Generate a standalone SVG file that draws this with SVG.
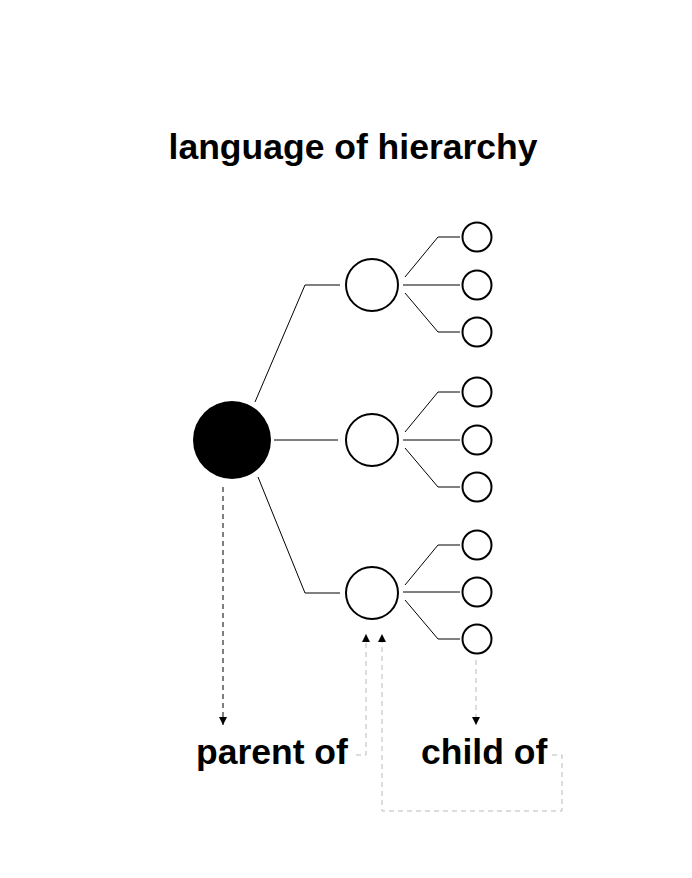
<svg xmlns="http://www.w3.org/2000/svg" width="692" height="878" viewBox="0 0 692 878">
<defs>
<style>
.lbl{font-family:"Liberation Sans",Arial,sans-serif;font-weight:bold;font-size:35.5px;fill:#000}
.c{fill:#fff;stroke:#000;stroke-width:2}
.ln{fill:none;stroke:#000;stroke-width:1}
.dk{fill:none;stroke:#000;stroke-width:1;stroke-dasharray:5,4}
.gy{fill:none;stroke:#bbb;stroke-width:1;stroke-dasharray:5,4}
</style>
<marker id="ah" viewBox="0 0 8 8" refX="8" refY="4" markerWidth="8" markerHeight="8" markerUnits="userSpaceOnUse" orient="auto">
<path d="M0,0 L8,4 L0,8 Z" fill="#000"/>
</marker>
</defs>
<rect width="692" height="878" fill="#fff"/>
<text class="lbl" x="353" y="159" text-anchor="middle">language of hierarchy</text>
<g id="connectors">
<polyline class="ln" points="255,402 305,285 340,285"/>
<line class="ln" x1="274" y1="440" x2="338" y2="440"/>
<polyline class="ln" points="258,477 305,593 340,593"/>
<polyline class="ln" points="405,277 438,237 460,237"/>
<line class="ln" x1="403" y1="285" x2="460" y2="285"/>
<polyline class="ln" points="405,293 438,332 460,332"/>
<polyline class="ln" points="405,432 438,392 460,392"/>
<line class="ln" x1="403" y1="440" x2="460" y2="440"/>
<polyline class="ln" points="405,448 438,487 460,487"/>
<polyline class="ln" points="405,585 438,545 460,545"/>
<line class="ln" x1="403" y1="592" x2="460" y2="592"/>
<polyline class="ln" points="405,600 438,639 460,639"/>
<line class="dk" x1="223" y1="487" x2="223" y2="725" marker-end="url(#ah)"/>
<line class="gy" x1="476" y1="660" x2="476" y2="725" marker-end="url(#ah)"/>
<polyline class="gy" points="356,755 366,755 366,634" marker-end="url(#ah)"/>
<polyline class="gy" points="552,755 562,755 562,811 382,811 382,634" marker-end="url(#ah)"/>
</g>
<g id="root"><circle cx="232" cy="440" r="39" fill="#000"/></g>
<g id="mid1"><circle class="c" cx="372" cy="285" r="26"/></g>
<g id="mid2"><circle class="c" cx="372" cy="440" r="26"/></g>
<g id="mid3"><circle class="c" cx="372" cy="593" r="26"/></g>
<g id="leaf1"><circle class="c" cx="477" cy="237" r="14.5"/></g>
<g id="leaf2"><circle class="c" cx="477" cy="285" r="14.5"/></g>
<g id="leaf3"><circle class="c" cx="477" cy="332" r="14.5"/></g>
<g id="leaf4"><circle class="c" cx="477" cy="392" r="14.5"/></g>
<g id="leaf5"><circle class="c" cx="477" cy="440" r="14.5"/></g>
<g id="leaf6"><circle class="c" cx="477" cy="487" r="14.5"/></g>
<g id="leaf7"><circle class="c" cx="477" cy="545" r="14.5"/></g>
<g id="leaf8"><circle class="c" cx="477" cy="592" r="14.5"/></g>
<g id="leaf9"><circle class="c" cx="477" cy="639" r="14.5"/></g>
<g id="label-parent"><text class="lbl" x="196" y="764">parent of</text></g>
<g id="label-child"><text class="lbl" x="421" y="764">child of</text></g>
</svg>
